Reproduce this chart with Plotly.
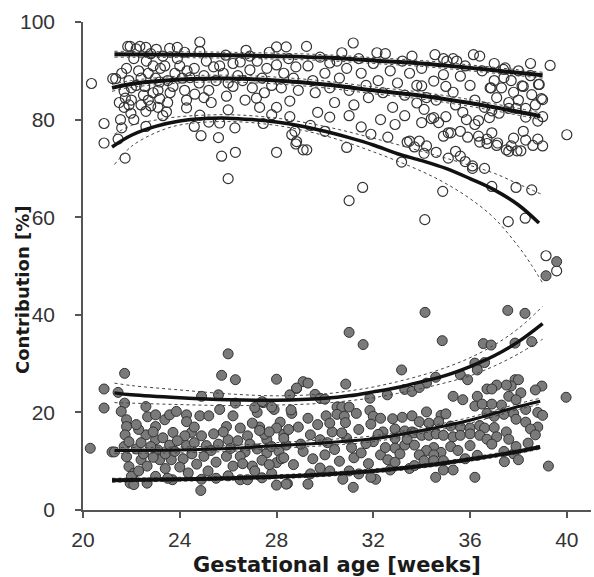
import plotly.graph_objects as go

# ---------------- data ----------------
# open circles: (gestational age [weeks], contribution [%])
open_circles = [
    (20.35,87.4),(20.87,79.2),(20.87,75.2),(21.45,76.0),(21.74,72.1),(21.23,88.4),(21.35,88.4),(21.55,80.0),
    (21.6,78.3),(21.7,82.5),(21.75,84.4),(21.7,85.8),(21.85,95.0),(21.95,95.0),(22.62,92.0),(22.55,86.8),
    (22.5,85.0),(22.6,81.7),(21.98,81.3),(22.6,78.6),(22.9,85.5),(23.17,84.3),(23.17,87.7),(23.03,94.4),
    (23.58,94.6),(23.38,91.0),(23.45,81.6),(23.72,86.8),(24.0,91.0),
    (21.6,89.5),(21.8,90.5),(21.9,88.0),(22.0,86.5),(22.1,92.5),(22.2,94.5),(22.3,90.0),(22.4,88.5),
    (22.2,87.0),(22.0,84.0),(22.4,83.0),(22.7,89.5),(22.8,93.5),(22.9,91.0),(23.0,88.5),(23.1,86.0),
    (23.2,90.5),(23.3,93.0),(23.5,88.0),(23.6,85.5),(23.8,89.5),(23.9,92.5),(23.5,83.5),(22.8,82.8),
    (23.1,82.5),(23.3,80.8),(22.7,84.0),(21.9,83.0),(22.1,80.0),(21.5,83.5),(22.35,95.0),(22.6,94.8),
    (23.9,94.8),(24.2,93.8),(24.1,88.5),(24.3,90.0),(24.2,86.0),
    (24.28,84.0),(24.28,82.4),(24.42,88.6),(24.62,85.2),(24.83,95.9),(24.83,94.0),(25.1,92.0),(24.88,76.7),
    (24.83,80.9),(25.6,76.3),(25.73,72.5),(26.0,67.9),(26.3,73.3),(26.28,78.3),(25.65,79.3),(25.93,84.8),
    (26.2,86.8),(25.65,91.0),(26.2,91.5),(26.74,94.2),(26.9,93.0),(27.17,84.4),(27.3,82.5),(27.45,79.2),
    (28.0,73.3),(28.0,94.9),(28.4,94.9),(28.3,89.5),(28.0,82.5),(28.55,83.8),(28.63,76.9),(28.83,75.5),
    (28.55,80.6),
    (24.6,90.5),(24.8,87.5),(25.0,89.0),(25.2,86.0),(25.4,90.8),(25.5,88.0),(25.8,89.5),(25.9,93.2),
    (26.0,87.5),(26.4,89.0),(26.5,91.8),(26.6,88.0),(26.9,90.2),(27.0,86.5),(27.2,92.0),(27.4,88.5),
    (27.6,90.5),(27.7,93.8),(27.8,87.0),(28.0,91.2),(28.2,86.5),(28.5,92.5),(28.7,88.5),(28.8,90.8),
    (28.9,86.0),(25.3,83.5),(25.0,84.5),(26.7,84.0),(27.5,85.5),(26.0,82.0),(27.8,81.0),(24.6,78.6),
    (25.2,79.5),
    (29.24,95.0),(31.17,95.7),(30.7,93.7),(32.15,93.7),(30.2,91.6),(34.55,93.3),(36.14,93.3),(35.04,92.0),
    (35.45,92.0),(39.31,91.1),(37.38,90.3),(38.0,90.0),(38.83,87.2),(38.2,86.8),(36.83,86.5),(39.0,84.1),
    (39.0,80.6),(40.0,76.9),(38.8,76.0),(39.0,74.6),(38.2,77.6),(37.94,73.6),(38.1,73.6),(37.7,74.6),
    (37.14,75.2),(36.7,76.0),(36.35,76.6),(36.9,77.3),(36.35,79.8),(35.2,77.3),(35.6,77.6),(35.0,80.6),
    (34.4,80.2),(34.1,82.1),(33.8,83.4),(33.3,80.8),(33.5,75.6),(33.9,75.6),(34.2,74.6),(34.6,73.3),
    (33.17,71.3),(35.6,72.5),(36.1,70.5),(36.6,70.0),(36.9,66.3),(37.9,66.1),(38.55,65.6),(34.87,65.3),
    (34.13,59.5),(37.58,59.1),(38.28,59.8),(31.56,66.1),(31.0,63.4),(39.14,52.1),(39.58,49.0),(29.1,73.8),
    (29.25,73.8),(28.8,75.0),(30.9,74.3),(31.9,77.0),(32.6,76.4),(30.0,77.6),(28.76,77.6),
    (34.9,92.5),(35.3,92.5),(37.45,90.6),(37.4,88.6),(38.86,87.2),(38.15,86.9),(36.87,86.5),(37.8,85.6),
    (38.55,85.1),(38.95,84.3),(34.0,86.9),(34.5,87.9),(34.9,89.2),(35.3,85.6),(35.6,88.9),(34.0,79.4),
    (34.7,79.4),(34.5,80.4),(35.85,80.0),(36.2,79.0),(36.8,80.4),(37.2,81.3),(37.6,82.3),(37.9,82.3),
    (38.3,82.3),(38.8,79.7),(35.1,77.3),(34.9,76.6),(35.9,76.4),(36.4,75.4),(36.7,75.1),(37.1,74.7),
    (37.5,73.8),(37.6,73.5),(37.8,76.2),(38.3,75.8),(38.6,74.7),(33.4,75.4),(33.7,74.4),(34.1,73.1),
    (35.4,73.5),(35.1,72.1),(35.8,71.4),(36.1,70.0),
    (29.3,91.0),(29.5,88.0),(29.6,85.5),(29.8,92.8),(30.0,89.5),(30.2,86.5),(30.4,83.5),(30.5,92.0),
    (30.6,88.5),(30.9,90.5),(31.0,86.0),(31.2,83.0),(31.4,92.5),(31.5,89.5),(31.7,87.0),(31.8,84.5),
    (32.0,91.5),(32.2,88.0),(32.4,85.5),(32.5,93.5),(32.7,90.0),(32.8,82.5),(33.0,87.5),(33.2,92.0),
    (33.3,85.0),(33.5,89.5),(33.6,93.0),(33.8,87.0),(34.0,90.5),(34.2,84.5),(30.2,80.5),(29.7,81.5),
    (31.0,80.8),(32.3,80.0),(29.4,78.8),(31.5,78.5),(32.9,79.0),
    (35.8,91.0),(36.0,87.0),(36.2,84.0),(36.5,90.0),(36.6,82.5),(37.0,88.0),(37.1,84.5),(37.3,86.5),
    (37.6,83.5),(37.7,88.0),(38.0,84.0),(38.3,80.5),(38.5,89.0),(38.7,83.0),(35.4,83.0),(35.7,81.5),
    (36.9,81.8),(34.6,84.0),(35.0,86.8),(36.4,93.0),(37.0,91.5),(38.5,91.5),
]

# grey filled circles
grey_circles = [
    (20.3,12.65),(20.87,24.8),(20.87,20.9),(21.72,28.0),(21.45,24.1),(21.72,21.9),(21.58,20.2),(21.2,11.9),
    (21.3,11.9),(21.8,18.5),(21.8,17.1),(21.74,15.4),(21.7,13.0),(21.8,10.9),(21.9,8.9),(22.1,7.5),
    (21.95,5.5),(22.1,5.2),(22.0,6.9),(22.6,21.2),(22.67,19.1),(22.6,15.4),(22.4,10.3),(22.65,9.0),
    (22.65,5.5),(23.0,17.1),(23.0,14.4),(23.1,12.3),(23.17,10.3),(23.0,6.9),(23.38,18.5),(23.58,19.5),
    (23.86,20.2),(23.72,15.9),(23.58,13.3),(23.65,10.3),(23.7,6.2),(23.5,6.5),(24.28,19.5),(24.28,18.1),
    (24.48,15.9),(24.21,15.2),(24.28,13.2),(24.14,10.5),(24.35,7.6),(24.9,23.3),(24.83,19.3),(25.2,19.3),
    (24.9,15.2),(25.1,13.2),(24.7,9.4),(24.9,6.3),(24.87,4.0),(25.17,8.0),(25.6,23.6),(25.73,27.6),
    (26.0,32.0),(26.3,26.7),(25.65,20.6),(25.93,17.1),(26.2,19.3),(26.3,21.9),(26.0,14.4),(25.93,11.0),
    (26.2,9.0),(26.5,6.2),(26.8,6.2),(27.0,9.0),(26.7,11.9),(26.8,15.2),(27.2,20.0),(27.3,17.0),
    (27.45,22.0),(27.6,14.4),(27.6,11.7),(28.0,26.8),(27.9,20.6),(28.15,18.0),(28.3,15.5),(28.0,9.7),
    (28.0,5.1),(28.45,5.4),(28.55,23.6),(28.63,19.8),(28.4,13.3),(28.83,24.9),
    (21.9,14.0),(22.2,12.5),(22.3,16.5),(22.4,13.8),(22.5,11.5),(22.8,13.0),(22.9,16.0),(22.9,10.8),
    (23.3,14.8),(23.4,11.5),(23.4,8.5),(23.8,12.0),(23.9,14.2),(24.0,8.8),(24.5,11.5),(24.6,13.8),
    (24.6,17.0),(25.0,11.0),(25.3,12.2),(25.4,15.6),(25.5,9.8),(25.6,13.5),(25.8,16.0),(26.1,12.6),
    (26.4,14.2),(26.5,11.0),(26.5,16.8),(26.6,9.5),(26.9,13.5),(27.0,17.8),(27.2,12.5),(27.4,10.2),
    (27.5,15.5),(27.8,13.0),(28.0,16.8),(28.1,12.0),(28.2,10.5),(28.5,16.5),(22.2,17.5),(23.0,19.5),
    (27.8,7.5),(26.0,7.0),(25.5,6.5),(22.3,8.0),
    (31.0,36.4),(31.58,33.9),(33.17,28.7),(29.1,26.3),(29.3,26.0),(28.83,25.0),(29.59,23.7),(29.8,22.9),
    (30.0,22.7),(30.86,25.8),(31.86,22.9),(32.58,23.6),(33.3,24.7),(33.6,24.3),(27.4,22.2),(27.1,21.0),
    (27.8,21.1),(28.6,20.5),(30.05,19.3),(30.5,21.1),(30.7,21.1),(31.0,21.1),(30.5,19.6),(30.8,19.2),
    (30.85,17.9),(31.86,20.4),(32.0,19.2),(31.9,17.6),(32.3,18.8),(32.8,18.7),(33.2,19.0),(33.6,19.3),
    (32.4,16.0),(32.9,16.6),(33.3,16.2),(28.4,5.3),(29.3,5.3),(30.74,6.3),(31.17,4.65),(32.1,6.3),
    (32.7,8.2),(27.4,6.6),(27.1,8.0),(29.4,7.4),(30.2,8.0),(31.0,8.0),(31.4,7.4),(31.9,6.7),
    (33.5,8.5),(29.8,8.6),(28.7,9.3),(28.3,10.7),(27.7,9.3),(30.0,11.3),(30.4,12.4),(29.1,12.0),
    (31.2,10.7),(31.5,11.7),(32.3,11.3),(32.6,10.3),(32.9,12.7),(33.3,13.3),(32.0,14.0),(30.9,14.7),
    (29.8,14.4),(29.4,15.4),(28.3,14.7),(27.7,16.0),(27.3,16.3),(30.3,16.0),(32.9,14.7),(33.6,16.0),
    (33.7,13.3),
    (28.9,17.0),(29.0,13.5),(29.5,10.5),(29.7,17.5),(30.1,13.8),(30.6,10.0),(30.7,15.8),(31.1,12.8),
    (31.4,16.5),(31.7,13.6),(31.8,9.5),(32.2,15.5),(32.5,12.8),(32.9,9.8),(33.1,11.5),(33.4,14.5),
    (31.3,19.8),(29.3,18.8),(30.2,17.8),
    (34.14,40.5),(37.56,40.9),(38.27,40.3),(34.85,34.7),(36.55,34.1),(36.87,33.8),(37.86,34.2),(38.55,34.5),
    (36.2,30.1),(36.6,30.2),(36.3,28.7),(35.6,27.7),(35.9,26.7),(34.58,27.2),(34.2,26.0),(33.9,25.1),
    (39.97,23.1),(38.97,25.4),(38.7,24.6),(37.86,26.7),(38.0,26.7),(37.7,25.4),(37.5,25.6),(37.1,25.6),
    (36.7,24.8),(36.9,24.8),(38.1,24.0),(36.3,23.3),(35.3,23.3),(35.7,22.6),(37.6,23.3),(37.9,22.6),
    (36.2,21.3),(36.5,21.7),(36.9,21.7),(37.3,21.5),(38.3,20.6),(38.8,20.0),(34.2,20.1),(34.8,19.4),
    (35.0,19.7),(36.7,19.8),(37.0,19.2),(37.4,19.6),(37.8,19.8),(37.9,18.6),(38.3,18.0),(38.8,17.0),
    (38.5,16.6),(33.9,18.1),(34.3,17.8),(34.7,18.1),(35.2,17.2),(35.6,17.0),(36.0,16.8),(36.4,17.3),
    (36.6,16.8),(37.0,16.9),(33.7,15.8),(34.0,15.3),(34.3,15.3),(34.6,15.6),(34.9,15.3),(35.3,15.0),
    (35.6,15.3),(36.0,15.6),(36.4,15.3),(36.7,14.5),(37.1,15.0),(37.5,16.0),(37.6,14.5),(35.2,13.0),
    (35.5,12.2),(34.5,12.8),(34.8,11.8),(34.2,12.2),(33.9,11.3),(34.5,11.3),(36.9,13.5),(37.4,12.0),
    (37.8,11.5),(37.9,13.0),(38.7,15.4),(39.24,9.0),(37.42,9.9),(38.0,10.3),(34.9,8.2),(35.3,8.2),
    (34.58,6.7),(36.2,6.7),(33.7,9.1),(34.1,10.1),(34.5,10.1),(34.9,10.1),(35.8,10.5),(36.3,11.2),
    (36.0,13.2),(38.4,13.7),(39.0,19.4),(39.58,50.9),(39.14,48.0),
]

# fitted curves (thick) and their confidence bands (thin dotted)
upper_top_ga = [21.3, 24, 26, 28, 30, 32, 34, 36, 38, 39]
upper_top_fit = [93.4, 93.3, 93.2, 93.0, 92.7, 92.1, 91.5, 90.6, 89.6, 89.1]

upper_mid_ga = [21.2, 22, 24, 26, 28, 30, 32, 34, 36, 38, 38.9]
upper_mid_fit = [86.5, 87.3, 88.2, 88.4, 88.0, 87.2, 86.0, 84.9, 83.4, 81.6, 80.7]

upper_low_ga = [21.2, 22, 23, 24, 25, 26, 27, 28, 29, 30, 31, 32, 33, 34, 35, 36, 37, 38, 38.85]
upper_low_fit = [74.4, 76.8, 78.6, 79.7, 80.2, 80.3, 80.0, 79.5, 78.7, 77.6, 76.3, 74.8, 73.0, 71.6, 70.0, 67.9, 65.6, 62.5, 58.8]
upper_low_band_ga = [21.3, 22, 23, 24, 26, 28, 30, 32, 34, 35, 36, 37, 38, 38.5, 39]
upper_low_band_lo = [70.8, 74.5, 77.3, 78.9, 79.6, 78.8, 76.7, 73.4, 69.4, 66.9, 63.8, 59.8, 54.0, 50.5, 46.5]
upper_low_band_hi = [77.0, 78.8, 79.9, 80.6, 81.0, 80.3, 78.6, 76.2, 73.5, 72.1, 70.6, 69.0, 66.8, 65.7, 64.6]

lower_top_ga = [21.3, 22, 24, 26, 28, 30, 31, 32, 33, 34, 35, 36, 37, 38, 39]
lower_top_fit = [24.0, 23.6, 23.0, 22.6, 22.5, 22.9, 23.4, 24.2, 25.1, 26.3, 27.6, 29.4, 31.6, 34.5, 38.2]
lower_top_band_lo = [22.0, 21.9, 21.6, 21.4, 21.5, 21.9, 22.4, 23.0, 23.9, 24.9, 26.1, 27.5, 29.5, 32.0, 35.0]
lower_top_band_hi = [26.0, 25.5, 24.6, 23.8, 23.4, 23.8, 24.4, 25.2, 26.3, 27.6, 29.2, 31.2, 33.8, 37.2, 41.7]

lower_mid_ga = [21.3, 24, 26, 28, 30, 32, 34, 36, 38, 38.9]
lower_mid_fit = [12.2, 12.3, 12.6, 13.2, 13.8, 14.6, 16.3, 18.4, 21.2, 22.3]

lower_bot_ga = [21.2, 24, 26, 28, 30, 32, 34, 36, 38, 38.9]
lower_bot_fit = [6.1, 6.3, 6.5, 6.8, 7.3, 8.0, 9.0, 10.4, 12.0, 12.9]

x_ticks = [20, 24, 28, 32, 36, 40]
y_ticks = [0, 20, 40, 60, 80, 100]

x_title = "Gestational age [weeks]"
y_title = "Contribution [%]"

# ---------------- figure ----------------
fig = go.Figure()

fig.add_trace(go.Scatter(
    x=[p[0] for p in open_circles], y=[p[1] for p in open_circles], mode="markers",
    marker=dict(size=10, color="rgba(255,255,255,0)", line=dict(color="#333333", width=1.2)),
    showlegend=False, hoverinfo="skip"))
fig.add_trace(go.Scatter(
    x=[p[0] for p in grey_circles], y=[p[1] for p in grey_circles], mode="markers",
    marker=dict(size=10, color="#7a7a7a", line=dict(color="#333333", width=1)),
    showlegend=False, hoverinfo="skip"))

def band(xs, ys):
    fig.add_trace(go.Scatter(x=xs, y=ys, mode="lines", line=dict(color="#444444", width=1, dash="dot", shape="spline"),
                             showlegend=False, hoverinfo="skip"))

def fit(xs, ys, w=4):
    fig.add_trace(go.Scatter(x=xs, y=ys, mode="lines", line=dict(color="#111111", width=w, shape="spline"),
                             showlegend=False, hoverinfo="skip"))

band(upper_top_ga, [v - 0.6 for v in upper_top_fit])
band(upper_top_ga, [v + 0.6 for v in upper_top_fit])
fit(upper_top_ga, upper_top_fit, 4)

band(upper_mid_ga, [v - 0.7 for v in upper_mid_fit])
band(upper_mid_ga, [v + 0.7 for v in upper_mid_fit])
fit(upper_mid_ga, upper_mid_fit, 4)

band(upper_low_band_ga, upper_low_band_lo)
band(upper_low_band_ga, upper_low_band_hi)
fit(upper_low_ga, upper_low_fit, 3.5)

band(lower_top_ga, lower_top_band_lo)
band(lower_top_ga, lower_top_band_hi)
fit(lower_top_ga, lower_top_fit, 3.5)

band(lower_mid_ga, [v - 0.6 for v in lower_mid_fit])
band(lower_mid_ga, [v + 0.6 for v in lower_mid_fit])
fit(lower_mid_ga, lower_mid_fit, 3)

band(lower_bot_ga, [v - 0.4 for v in lower_bot_fit])
band(lower_bot_ga, [v + 0.4 for v in lower_bot_fit])
fit(lower_bot_ga, lower_bot_fit, 4)

tick_font = dict(family="Liberation Sans, Arial, sans-serif", size=21, color="#333333")

fig.update_layout(
    width=594, height=577,
    margin=dict(l=83, r=3, t=22, b=67),
    paper_bgcolor="white", plot_bgcolor="white",
    xaxis=dict(range=[20, 41], tickvals=x_ticks, ticks="outside", ticklen=6, tickwidth=1.5,
               tickcolor="#555555", showline=True, linecolor="#555555", linewidth=1.5,
               showgrid=False, zeroline=False, tickfont=tick_font, automargin=False,
               ticklabelstandoff=4),
    yaxis=dict(range=[0, 100], tickvals=y_ticks, ticks="outside", ticklen=6, tickwidth=1.5,
               tickcolor="#555555", showline=True, linecolor="#555555", linewidth=1.5,
               showgrid=False, zeroline=False, tickfont=tick_font, automargin=False,
               ticklabelstandoff=16),
    annotations=[
        dict(text="<b>" + x_title + "</b>", xref="paper", yref="paper", x=0.5, y=0,
             xanchor="center", yanchor="middle", yshift=-55, showarrow=False,
             font=dict(family="DejaVu Sans", size=21, color="#1a1a1a")),
        dict(text="<b>" + y_title + "</b>", xref="paper", yref="paper", x=0, y=0.5,
             xanchor="center", yanchor="middle", xshift=-61, yshift=-24, textangle=-90, showarrow=False,
             font=dict(family="DejaVu Sans", size=18, color="#1a1a1a")),
    ],
)

fig.write_html("out.html", config={"displayModeBar": False},
               post_script="document.body.style.margin='0';document.body.style.overflow='hidden';")
